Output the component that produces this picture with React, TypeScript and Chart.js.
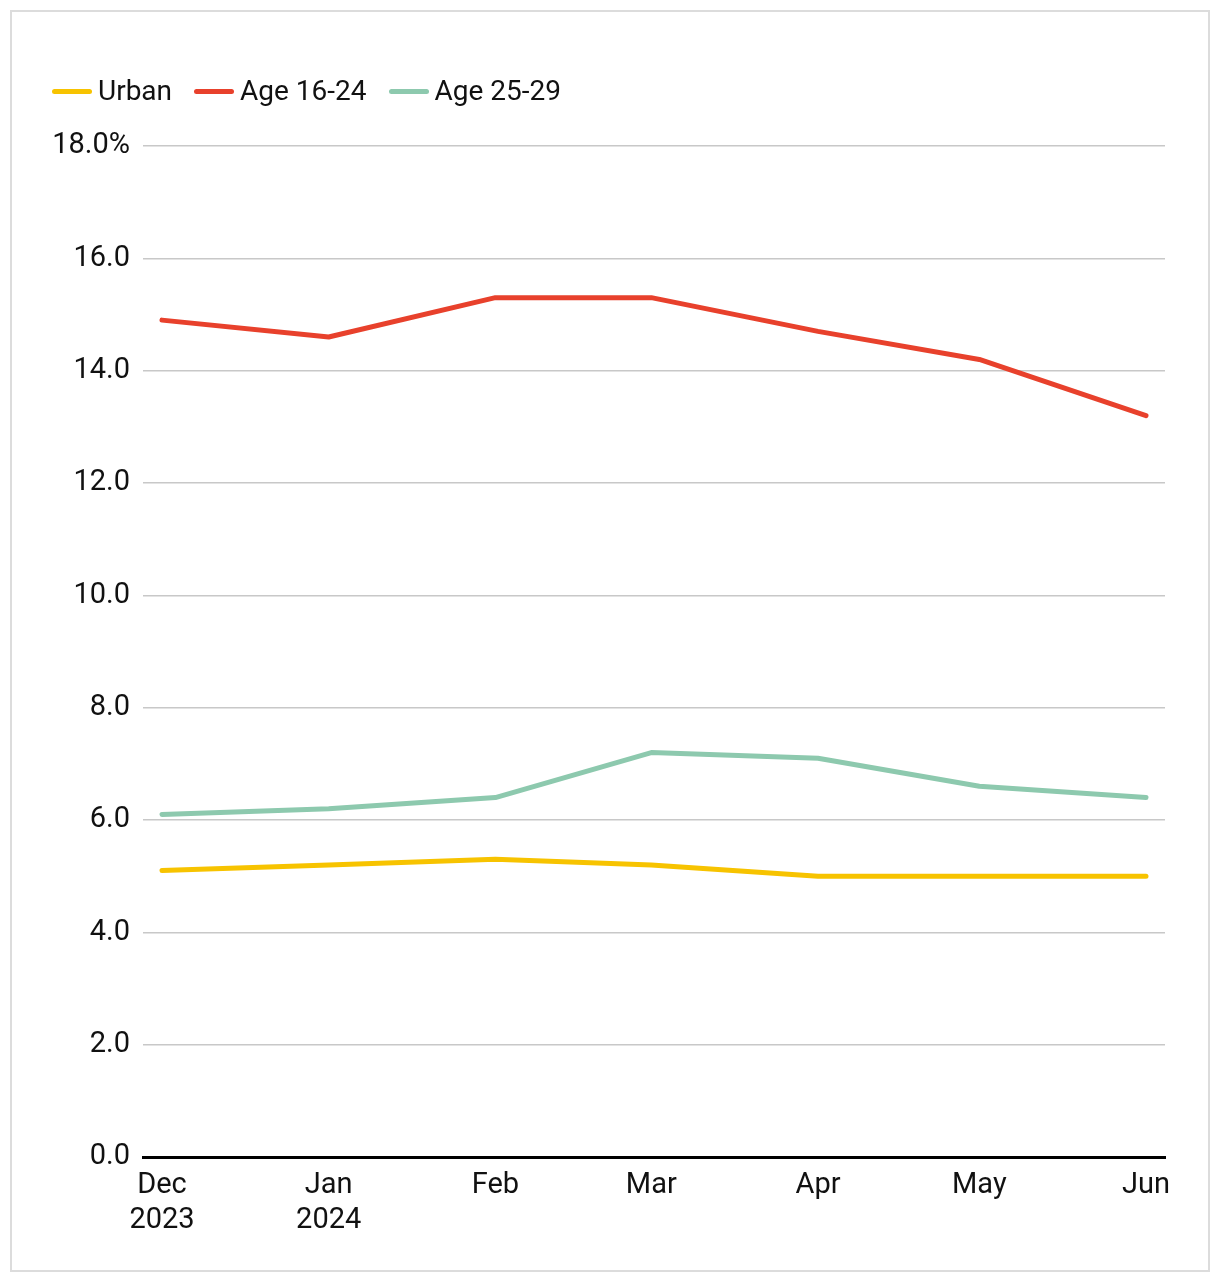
import React, { useEffect, useRef } from "react";
import { Chart, registerables } from "chart.js";

Chart.register(...registerables);

const dates: string[] = ["2023-12-01", "2024-01-01", "2024-02-01", "2024-03-01", "2024-04-01", "2024-05-01", "2024-06-01"];
const categories: string[][] = [["Dec", "2023"], ["Jan", "2024"], ["Feb"], ["Mar"], ["Apr"], ["May"], ["Jun"]];
const urban: number[] = [5.1, 5.2, 5.3, 5.2, 5.0, 5.0, 5.0];
const age1624: number[] = [14.9, 14.6, 15.3, 15.3, 14.7, 14.2, 13.2];
const age2529: number[] = [6.1, 6.2, 6.4, 7.2, 7.1, 6.6, 6.4];
const seriesNames: string[] = ["Urban", "Age 16-24", "Age 25-29"];
const seriesColors: string[] = ["#F7C300", "#E8412C", "#8DC9AE"];
const yTicks: number[] = [0, 2, 4, 6, 8, 10, 12, 14, 16, 18];

const FONT = "Roboto, 'Noto Sans', sans-serif";
const DAY = 86400000;

export default function App() {
  const ref = useRef<HTMLCanvasElement | null>(null);

  useEffect(() => {
    if (!ref.current) return;
    const t0 = Date.parse(dates[0]);
    const xs = dates.map((d) => Math.round((Date.parse(d) - t0) / DAY));
    const span = xs[xs.length - 1];
    const pad = span * 0.0193;
    const toPts = (arr: number[]) => arr.map((v, i) => ({ x: xs[i], y: v }));
    const datasets = [urban, age1624, age2529].map((arr, i) => ({
      label: seriesNames[i],
      data: toPts(arr),
      borderColor: seriesColors[i],
      backgroundColor: seriesColors[i],
      borderWidth: 5,
      borderCapStyle: "round" as const,
      borderJoinStyle: "round" as const,
      pointRadius: 0,
      tension: 0,
    }));
    const chart = new Chart(ref.current, {
      type: "line",
      data: { datasets },
      options: {
        animation: false,
        responsive: false,
        maintainAspectRatio: false,
        layout: { padding: { top: 134, right: 43, bottom: 0, left: 0 } },
        plugins: { legend: { display: false }, tooltip: { enabled: false } },
        scales: {
          x: {
            type: "linear",
            min: -pad,
            max: span + pad,
            afterBuildTicks: (scale: any) => {
              scale.ticks = xs.map((x) => ({ value: x }));
            },
            afterFit: (scale: any) => {
              scale.height = 113;
            },
            ticks: {
              autoSkip: false,
              maxRotation: 0,
              padding: 12,
              color: "#111",
              font: { family: FONT, size: 29, lineHeight: 1.18 },
              callback: (v: any) => {
                const idx = xs.indexOf(Math.round(Number(v)));
                const c = categories[idx];
                return c ? (c.length > 1 ? c : c[0]) : "";
              },
            },
            grid: { display: false, drawTicks: false },
            border: { display: true, color: "#000", width: 3 },
          },
          y: {
            min: 0,
            max: 18,
            afterBuildTicks: (scale: any) => {
              scale.ticks = yTicks.map((v) => ({ value: v }));
            },
            afterFit: (scale: any) => {
              scale.width = 131;
            },
            ticks: {
              padding: 13,
              color: "#111",
              font: { family: FONT, size: 29 },
              callback: (v: any) => (Number(v) === 18 ? Number(v).toFixed(1) + "%" : Number(v).toFixed(1)),
            },
            grid: {
              drawTicks: false,
              color: (ctx: any) => (ctx.tick && ctx.tick.value === 0 ? "#000" : "#c8c8c8"),
              lineWidth: (ctx: any) => (ctx.tick && ctx.tick.value === 0 ? 3 : 1.5),
            },
            border: { display: false },
          },
        },
      },
    });
    return () => chart.destroy();
  }, []);

  return (
    <div
      style={{
        position: "relative",
        margin: "2px 0 0 2px",
        width: 1196,
        height: 1258,
        border: "2px solid #dcdcdc",
        background: "#fff",
      }}
    >
      <div
        style={{
          position: "absolute",
          left: 40,
          top: 63,
          display: "flex",
          alignItems: "center",
          fontFamily: FONT,
          fontSize: 28,
          color: "#111",
          lineHeight: "32px",
        }}
      >
        {seriesNames.map((n, i) => (
          <div key={n} style={{ display: "flex", alignItems: "center", marginRight: 22 }}>
            <span
              style={{
                display: "inline-block",
                width: 40,
                height: 5,
                borderRadius: 3,
                background: seriesColors[i],
                marginRight: 6,
              }}
            />
            <span>{n}</span>
          </div>
        ))}
      </div>
      <canvas ref={ref} width={1196} height={1258} style={{ display: "block" }} />
    </div>
  );
}
